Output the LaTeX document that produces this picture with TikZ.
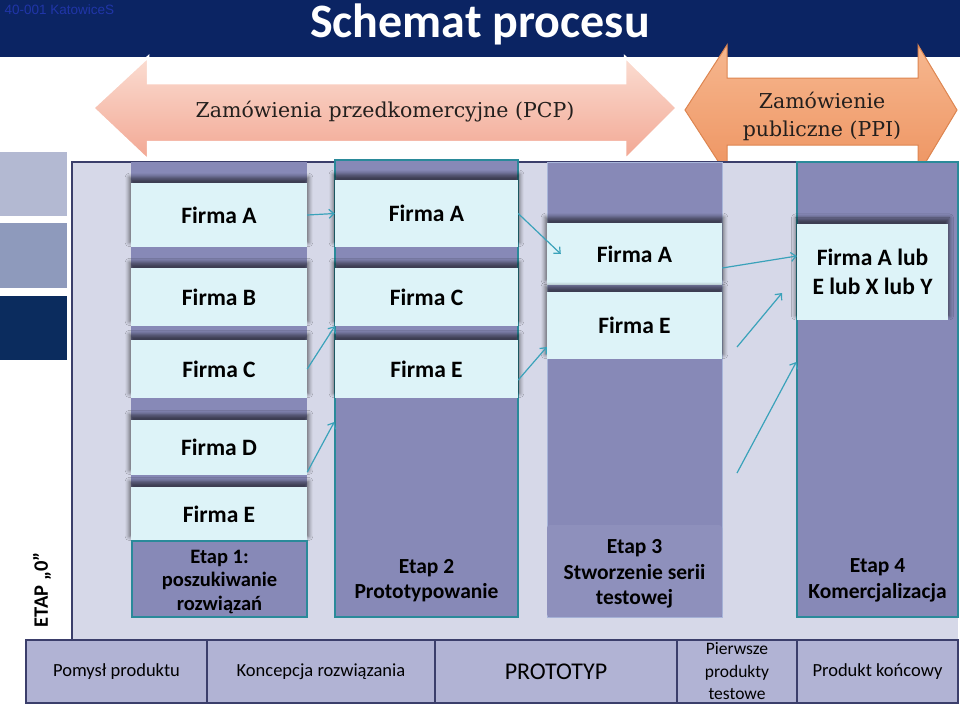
\documentclass[tikz,border=0pt]{standalone}
\usepackage{fontspec}
\usepackage{tikz}
\usetikzlibrary{arrows.meta, shadows.blur}
\newfontfamily\calibri{Carlito}
\newfontfamily\arialf{Liberation Sans}
\newfontfamily\procserif{DejaVu Serif}
\definecolor{titlenavy}{HTML}{0B2463}
\definecolor{tagblue}  {HTML}{2035A8}
\definecolor{pcptop}   {HTML}{FBDDD2}
\definecolor{pcpbot}   {HTML}{F2A793}
\definecolor{ppitop}   {HTML}{F6B78F}
\definecolor{ppibot}   {HTML}{EE9461}
\definecolor{ppiedge}  {HTML}{DD8550}
\definecolor{panelfill}{HTML}{D6D8E8}
\definecolor{paneledge}{HTML}{3B3E6B}
\definecolor{colfill}  {HTML}{8789B7}
\definecolor{etapfill} {HTML}{8E90BC}
\definecolor{collight} {HTML}{A9B6DA}
\definecolor{colteal}  {HTML}{2A8A9A}
\definecolor{firmfill} {HTML}{DDF3F8}
\definecolor{flowcol}  {HTML}{3AA2BA}
\definecolor{stagefill}{HTML}{B1B3D4}
\definecolor{sqlight}  {HTML}{B3B9D2}
\definecolor{sqmid}    {HTML}{8E9ABC}
\definecolor{sqdark}   {HTML}{0B2C5E}
\definecolor{ink}      {HTML}{231F1D}

\begin{document}
\begin{tikzpicture}[x=1pt, y=-1pt,
    spcol/.style={fill=colfill, inner sep=0pt, minimum height=455pt},
    spfirm/.style={fill=firmfill, inner sep=0pt, minimum width=#1, align=center,
                   font=\calibri\bfseries\fontsize{23.5}{29}\selectfont,
                   blur shadow={shadow xshift=0pt, shadow yshift=5pt, shadow scale=1.02,
                                shadow blur radius=4pt, shadow blur steps=6, shadow opacity=55}},
    spetap/.style={inner sep=0pt, align=center, font=\calibri\bfseries\fontsize{21.5}{25.5}\selectfont},
    spstage/.style={fill=stagefill, draw=paneledge, line width=1.5pt, inner sep=0pt,
                    minimum height=63pt, align=center,
                    font=\calibri\fontsize{18.5}{22.5}\selectfont},
    spproc/.style={text=ink, align=center, font=\procserif\fontsize{20.5}{28}\selectfont},
    spflow/.style={-{Straight Barb[length=5pt, width=9pt]}, line width=1.2pt, flowcol}
  ]
    \useasboundingbox (0,0) rectangle (960,705);

    \fill[titlenavy] (0,0) rectangle (960,57);
    \node[anchor=west, text=tagblue, font=\arialf\fontsize{13.5}{16}\selectfont] (tag) at (1,10) {40-001 KatowiceS};
    \node[text=white, font=\calibri\bfseries\fontsize{48}{54}\selectfont] (title) at (480,24) {Schemat procesu};

    \draw[top color=pcptop, bottom color=pcpbot, draw=white, line width=2.5pt]
      (93,108) -- (148,57) -- (148,83) -- (625,83) -- (625,57) -- (677,108)
      -- (625,160) -- (625,142) -- (148,142) -- (148,160) -- cycle;
    \node[spproc] (pcp) at (385,112) {Zamówienia przedkomercyjne (PCP)};
    \draw[top color=ppitop, bottom color=ppibot, draw=ppiedge, line width=1pt]
      (685,110) -- (727,45) -- (727,78) -- (918,78) -- (918,45) -- (957,110)
      -- (918,175) -- (918,145) -- (727,145) -- (727,175) -- cycle;
    \node[spproc] (ppi) at (822,116) {Zamówienie\\publiczne (PPI)};

    \fill[sqlight] (0,152) rectangle (67,216);
    \fill[sqmid]   (0,223) rectangle (67,288);
    \fill[sqdark]  (0,296) rectangle (67,360);

    \fill[panelfill] (72,162) rectangle (958,640);
    \draw[paneledge, line width=2pt] (72,640) -- (72,162) -- (958,162);

    \node[spcol, minimum width=176pt] (col1) at (219,389.5) {};
    \node[spcol, minimum width=183pt, minimum height=457pt, draw=colteal, line width=1.5pt] (col2) at (426.5,388.5) {};
    \node[spcol, minimum width=175pt, draw=collight, line width=1pt] (col3) at (634.5,389.5) {};
    \node[spcol, minimum width=161pt, draw=colteal, line width=1.5pt] (col4) at (877.5,389.5) {};

    \node[spfirm=176pt, minimum height=64pt] (c1a) at (219,215)   {Firma A};
    \node[spfirm=176pt, minimum height=58pt] (c1b) at (219,297)   {Firma B};
    \node[spfirm=176pt, minimum height=58pt] (c1c) at (219,369)   {Firma C};
    \node[spfirm=176pt, minimum height=55pt] (c1d) at (219,447.5) {Firma D};
    \node[spfirm=176pt, minimum height=54pt] (c1e) at (219,514)   {Firma E};

    \node[spfirm=183pt, minimum height=67pt] (c2a) at (426.5,213.5) {Firma A};
    \node[spfirm=183pt, minimum height=58pt] (c2c) at (426.5,297)   {Firma C};
    \node[spfirm=183pt, minimum height=58pt] (c2e) at (426.5,369)   {Firma E};

    \node[spfirm=175pt, minimum height=62pt] (c3a) at (634.5,254)   {Firma A};
    \node[spfirm=175pt, minimum height=67pt] (c3e) at (634.5,325.5) {Firma E};

    \node[spfirm=151pt, minimum height=96pt] (c4) at (872.5,272) {Firma A lub\\E lub X lub Y};

    \draw[colteal, fill=colfill, line width=1.5pt] (132,541) rectangle (307,617);
    \fill[etapfill, rounded corners=3pt] (547,525) rectangle (722,617);
    \node[spetap, font=\calibri\bfseries\fontsize{20.5}{23.5}\selectfont] (e1) at (219.5,582) {Etap 1:\\poszukiwanie\\rozwiązań};
    \node[spetap] (e2) at (426.5,580.5) {Etap 2\\Prototypowanie};
    \node[spetap] (e3) at (634.5,574) {Etap 3\\Stworzenie serii\\testowej};
    \node[spetap] (e4) at (877.5,580.5) {Etap 4\\Komercjalizacja};

    \node[rotate=90, font=\calibri\bfseries\fontsize{20.5}{24}\selectfont] (etap0) at (42,590) {ETAP „0”};

    \node[spstage, minimum width=181pt] (b1) at (116.5,671.5) {Pomysł produktu};
    \node[spstage, minimum width=228pt] (b2) at (321,671.5)   {Koncepcja rozwiązania};
    \node[spstage, minimum width=242pt, font=\calibri\fontsize{24}{28}\selectfont] (b3) at (556,671.5) {PROTOTYP};
    \node[spstage, minimum width=120pt, font=\calibri\fontsize{17.5}{22.5}\selectfont] (b4) at (737,671.5) {Pierwsze\\produkty\\testowe};
    \node[spstage, minimum width=161pt] (b5) at (877.5,671.5) {Produkt końcowy};

    % two arrows in the last gap start from nothing, so they get loose coordinates
    \coordinate (g1) at (737,347);
    \coordinate (g2) at (782,293);
    \coordinate (g3) at (737,473);

    \draw[spflow] (c1a.east) -- (c2a.west);
    \draw[spflow] (c1c.east) -- (c2c.south west);
    \draw[spflow] ([yshift=3pt]c1d.south east) -- ([yshift=-33.5pt]col2.west);
    \draw[spflow] (c2a.east) -- ([xshift=14pt]c3a.west);
    \draw[spflow] ([yshift=-11pt]c2e.east) -- ([yshift=-21.5pt]c3e.west);
    \draw[spflow] ([yshift=-14pt]c3a.east) -- ([yshift=16pt]c4.west);
    \draw[spflow] (g1) -- (g2);
    \draw[spflow] (g3) -- ([yshift=27.5pt]col4.west);
  \end{tikzpicture}
\end{document}
